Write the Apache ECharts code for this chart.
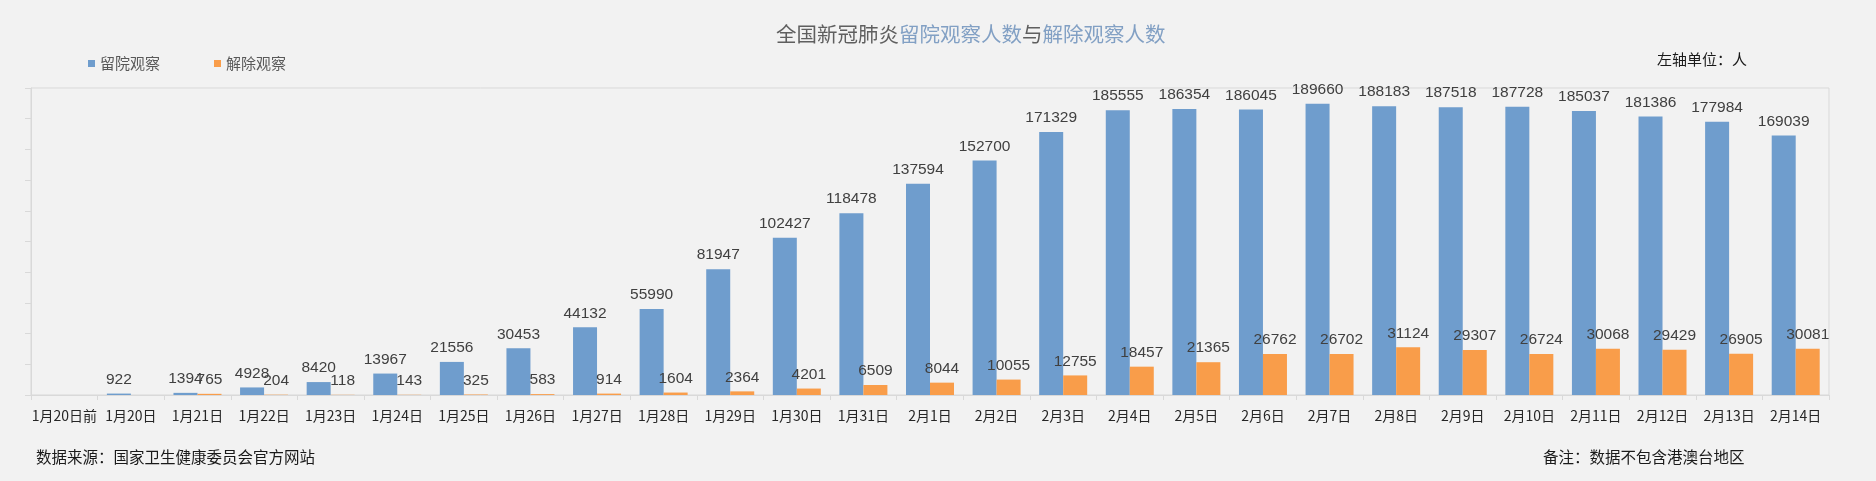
<!DOCTYPE html>
<html>
<head>
<meta charset="utf-8">
<script src="https://cdn.jsdelivr.net/npm/echarts@6/dist/echarts.min.js"></script>
<style>
html,body{margin:0;padding:0;background:#f2f2f2;}
#chart{width:1876px;height:481px;}
</style>
</head>
<body>
<div id="chart"></div>
<script>
var categories = ['1月20日前','1月20日','1月21日','1月22日','1月23日','1月24日','1月25日','1月26日','1月27日','1月28日','1月29日','1月30日','1月31日','2月1日','2月2日','2月3日','2月4日','2月5日','2月6日','2月7日','2月8日','2月9日','2月10日','2月11日','2月12日','2月13日','2月14日'];
var hospitalObs = [null,922,1394,4928,8420,13967,21556,30453,44132,55990,81947,102427,118478,137594,152700,171329,185555,186354,186045,189660,188183,187518,187728,185037,181386,177984,169039];
var releasedObs = [null,null,765,204,118,143,325,583,914,1604,2364,4201,6509,8044,10055,12755,18457,21365,26762,26702,31124,29307,26724,30068,29429,26905,30081];
var seriesNames = ['留院观察','解除观察'];
var titleParts = ['全国新冠肺炎','留院观察人数','与','解除观察人数'];
var unitText = '左轴单位：人';
var sourceText = '数据来源：国家卫生健康委员会官方网站';
var noteText = '备注：数据不包含港澳台地区';

var CJK = '"Noto Sans CJK SC", "Noto Sans", sans-serif';
var NUM = '"Liberation Sans", Arial, sans-serif';
var chart = echarts.init(document.getElementById('chart'), null, {renderer:'canvas'});
var labelStyle = {show:true, position:'top', distance:6, color:'#404040', fontSize:15.5, fontFamily:NUM};
chart.setOption({
  backgroundColor:'#f2f2f2',
  animation:false,
  title:{
    text:'{a|'+titleParts[0]+'}{b|'+titleParts[1]+'}{a|'+titleParts[2]+'}{b|'+titleParts[3]+'}',
    left:771, top:19,
    textStyle:{fontWeight:'normal', rich:{
      a:{fontSize:20.5, color:'#5f5f5f', fontFamily:CJK, fontWeight:'normal'},
      b:{fontSize:20.5, color:'#82a0c4', fontFamily:CJK, fontWeight:'normal'}
    }}
  },
  legend:{
    data:seriesNames,
    left:83, top:51,
    icon:'rect', itemWidth:7, itemHeight:7, itemGap:54,
    textStyle:{fontSize:15, color:'#595959', fontFamily:CJK}
  },
  grid:{left:31, right:47, top:88, bottom:86, show:true, borderColor:'#d9d9d9', borderWidth:1, backgroundColor:'transparent', containLabel:false},
  xAxis:{
    type:'category', data:categories, boundaryGap:true,
    axisLine:{show:true, lineStyle:{color:'#d9d9d9', width:1}},
    axisTick:{show:true, length:5, lineStyle:{color:'#d9d9d9'}},
    axisLabel:{color:'#262626', fontSize:14, fontFamily:CJK, margin:14, interval:0}
  },
  yAxis:{
    type:'value', min:0, max:200000, interval:20000,
    axisLine:{show:true, lineStyle:{color:'#d9d9d9'}},
    axisTick:{show:true, length:6, lineStyle:{color:'#d9d9d9'}},
    axisLabel:{show:false},
    splitLine:{show:false}
  },
  series:[
    {name:seriesNames[0], type:'bar', data:hospitalObs, barWidth:24, barGap:'0%', itemStyle:{color:'#6f9dcd'}, label:labelStyle},
    {name:seriesNames[1], type:'bar', data:releasedObs, barWidth:24, barGap:'0%', itemStyle:{color:'#f99d4a'}, label:labelStyle}
  ],
  graphic:[
    {type:'text', left:1657, top:52, style:{text:unitText, fontSize:15, fill:'#1a1a1a', fontFamily:CJK}},
    {type:'text', left:36, top:449, style:{text:sourceText, fontSize:15.5, fill:'#1a1a1a', fontFamily:CJK}},
    {type:'text', left:1543, top:449, style:{text:noteText, fontSize:15.5, fill:'#1a1a1a', fontFamily:CJK}}
  ]
});
</script>
</body>
</html>
